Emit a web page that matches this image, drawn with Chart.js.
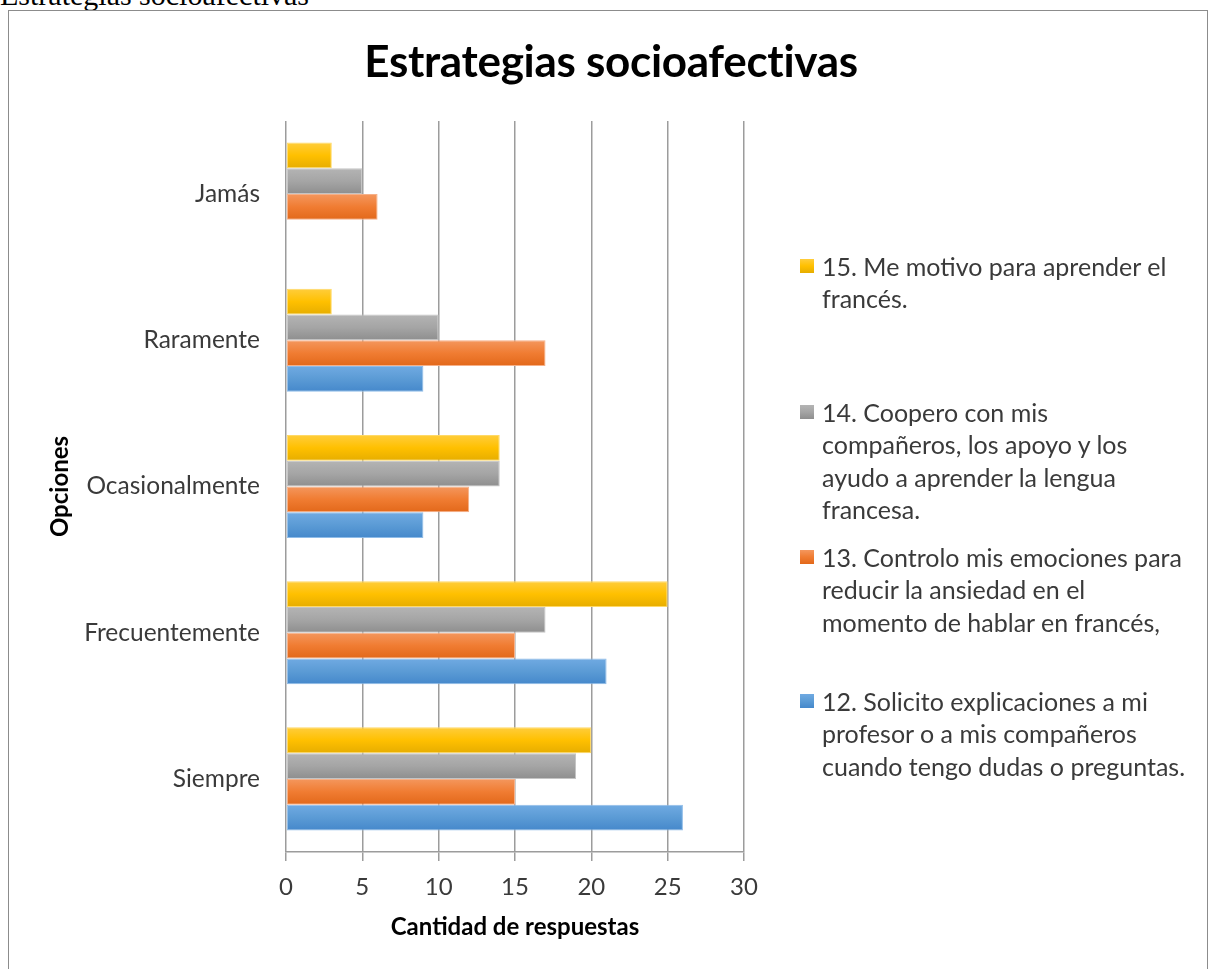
<!DOCTYPE html>
<html>
<head>
<meta charset="utf-8">
<script src="https://cdn.jsdelivr.net/npm/chart.js@4.4.1/dist/chart.umd.min.js"></script>
<style>
  html, body { margin: 0; padding: 0; background: #fff; }
  body { width: 1209px; height: 969px; position: relative; overflow: hidden; }
  #caption { position: absolute; left: 0; top: -20px; font: 30px/30px "Liberation Serif", "Times New Roman", serif; color: #000; white-space: nowrap; }
  #frame { position: absolute; left: 8px; top: 10px; width: 1200px; height: 980px; border: 1px solid #8c8c8c; box-sizing: border-box; }
  #chart { position: absolute; left: 0; top: 0; }
  #title { position: absolute; left: 311px; width: 600px; top: 34px; text-align: center; font: bold 44px/52px Lato, sans-serif; color: #000; white-space: nowrap; letter-spacing: -0.3px; }
  .entry { position: absolute; left: 800px; font: 25px/32.3px Lato, sans-serif; color: #3a3a3a; white-space: nowrap; }
  .entry .sw { position: absolute; left: 0; top: 9px; width: 14px; height: 14px; }
  .entry .tx { margin-left: 22px; }
</style>
</head>
<body>
<div id="caption">Estrategias socioafectivas</div>
<div id="frame"></div>
<canvas id="chart" width="1209" height="969"></canvas>
<div id="title">Estrategias socioafectivas</div>
<div id="legend"></div>
<script>
// Response options, top to bottom
const categories = ['Jamás', 'Raramente', 'Ocasionalmente', 'Frecuentemente', 'Siempre'];

// Statement labels (as wrapped in the legend)
const labels15 = ['15. Me motivo para aprender el', 'francés.'];
const labels14 = ['14. Coopero con mis', 'compañeros, los apoyo y los', 'ayudo a aprender la lengua', 'francesa.'];
const labels13 = ['13. Controlo mis emociones para', 'reducir la ansiedad en el', 'momento de hablar en francés,'];
const labels12 = ['12. Solicito explicaciones a mi', 'profesor o a mis compañeros', 'cuando tengo dudas o preguntas.'];

// Number of answers per option
const values15 = [3, 3, 14, 25, 20];
const values14 = [5, 10, 14, 17, 19];
const values13 = [6, 17, 12, 15, 15];
const values12 = [0, 9, 9, 21, 26];

// X axis ticks
const xTicks = [0, 5, 10, 15, 20, 25, 30];

const FONT = 'Lato, sans-serif';
const CAT_PCT = 0.705;

// light / base / dark shades for the vertical bar shading, plus edge colour
const shades = {
  s15: ['#ffcd3c', '#ffc000', '#e6ad00', '#ffd966'],
  s14: ['#b4b4b4', '#a5a5a5', '#8e8e8e', '#c4c4c4'],
  s13: ['#f4975e', '#f07c32', '#e2681a', '#f6b088'],
  s12: ['#70aae2', '#5b9bd5', '#4588cb', '#8fbce8']
};

function barFill(sh) {
  return function (ctx) {
    const chart = ctx.chart;
    const y = chart.scales.y;
    if (ctx.type !== 'data' || !y || !chart.chartArea) return sh[1];
    const n = chart.data.datasets.length;
    const cat = Math.abs(y.getPixelForValue(1) - y.getPixelForValue(0));
    const group = cat * CAT_PCT;
    const bh = group / n;
    const top = y.getPixelForValue(ctx.dataIndex) - group / 2 + ctx.datasetIndex * bh;
    const g = chart.ctx.createLinearGradient(0, top, 0, top + bh);
    g.addColorStop(0, sh[0]);
    g.addColorStop(0.5, sh[1]);
    g.addColorStop(1, sh[2]);
    return g;
  };
}

function makeSet(lines, data, sh) {
  return {
    label: lines.join(' '),
    data: data,
    backgroundColor: barFill(sh),
    borderColor: sh[3],
    borderWidth: 1,
    borderSkipped: false
  };
}

const seriesDefs = [
  [labels15, values15, shades.s15],
  [labels14, values14, shades.s14],
  [labels13, values13, shades.s13],
  [labels12, values12, shades.s12]
];

// Legend entries: vertical position of each entry's first line
const legendTops = [250, 396, 541, 685];
const legendEl = document.getElementById('legend');
seriesDefs.forEach(function (d, i) {
  const e = document.createElement('div');
  e.className = 'entry';
  e.style.top = legendTops[i] + 'px';
  const sw = document.createElement('div');
  sw.className = 'sw';
  sw.style.background = 'linear-gradient(' + d[2][0] + ',' + d[2][1] + ',' + d[2][2] + ')';
  const tx = document.createElement('div');
  tx.className = 'tx';
  tx.innerHTML = d[0].join('<br>');
  e.appendChild(sw);
  e.appendChild(tx);
  legendEl.appendChild(e);
});

const gridGray = '#9c9c9c';

new Chart(document.getElementById('chart'), {
  type: 'bar',
  data: {
    labels: categories,
    datasets: seriesDefs.map(function (d) { return makeSet(d[0], d[1], d[2]); })
  },
  options: {
    indexAxis: 'y',
    responsive: false,
    animation: false,
    events: [],
    layout: { padding: { left: 0, right: 465, top: 121, bottom: 0 } },
    datasets: { bar: { categoryPercentage: CAT_PCT, barPercentage: 1 } },
    plugins: { legend: { display: false }, title: { display: false }, tooltip: { enabled: false } },
    scales: {
      x: {
        type: 'linear',
        min: xTicks[0],
        max: xTicks[xTicks.length - 1],
        afterBuildTicks: function (s) { s.ticks = xTicks.map(function (v) { return { value: v }; }); },
        afterFit: function (s) { s.height = 117; },
        grid: { color: gridGray, lineWidth: 1.5, drawTicks: true, tickLength: 9, tickColor: gridGray },
        border: { display: true, color: gridGray, width: 1.5 },
        ticks: { color: '#3a3a3a', font: { family: FONT, size: 24 }, padding: 12 },
        title: { display: true, text: 'Cantidad de respuestas', color: '#000', font: { family: FONT, size: 24, weight: 'bold' }, padding: { top: 0, bottom: 27 } }
      },
      y: {
        afterFit: function (s) { s.width = 286; },
        grid: { display: false, drawTicks: false },
        border: { display: false },
        ticks: { color: '#3a3a3a', font: { family: FONT, size: 24.5 }, padding: 26 },
        title: { display: true, text: 'Opciones', color: '#000', font: { family: FONT, size: 24, weight: 'bold' }, padding: { top: 46, bottom: 0 } }
      }
    }
  }
});
</script>
</body>
</html>
